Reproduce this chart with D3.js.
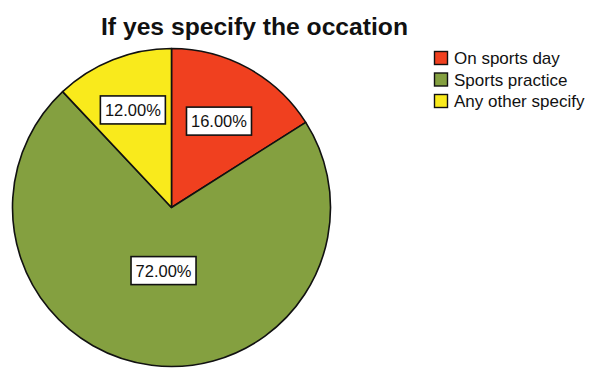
<!DOCTYPE html>
<html>
<head>
<meta charset="utf-8">
<script src="https://cdn.jsdelivr.net/npm/d3@7"></script>
<style>
  html, body { margin: 0; padding: 0; background: #ffffff; }
  svg { display: block; font-family: "Liberation Sans", Arial, sans-serif; }
</style>
</head>
<body>
<svg id="chart" width="593" height="368"></svg>
<script>
// Occasion breakdown (percent of "yes" answers)
const categories = ["On sports day", "Sports practice", "Any other specify"];
const values = [16, 72, 12];
const colors = ["#f0401f", "#84a040", "#f9ea1c"];
const title = "If yes specify the occation";

const svg = d3.select("#chart");
const W = 593, H = 368;
const cx = 171.5, cy = 207.5, r = 159;

// Title
svg.append("text")
  .attr("x", 254.5).attr("y", 35)
  .attr("text-anchor", "middle")
  .attr("font-size", 23)
  .attr("font-weight", "bold")
  .attr("textLength", 307)
  .attr("lengthAdjust", "spacingAndGlyphs")
  .attr("fill", "#111")
  .text(title);

const data = categories.map((c, i) => ({ name: c, value: values[i], color: colors[i] }));

const pie = d3.pie().value(d => d.value).sort(null);
const arcs = pie(data);
const arc = d3.arc().innerRadius(0).outerRadius(r);

const g = svg.append("g").attr("transform", `translate(${cx},${cy})`);

g.selectAll("path.slice")
  .data(arcs)
  .enter().append("path")
  .attr("class", "slice")
  .attr("d", arc)
  .attr("fill", d => d.data.color)
  .attr("stroke", "#111")
  .attr("stroke-width", 1.6)
  .attr("stroke-linejoin", "round");

// Percentage labels in white boxes
const labelRadius = [0.62, 0.40, 0.66];
const fmt = d3.format(".2f");
arcs.forEach((a, i) => {
  const la = d3.arc().innerRadius(r * labelRadius[i]).outerRadius(r * labelRadius[i]);
  const [lx, ly] = la.centroid(a);
  const lg = g.append("g").attr("transform", `translate(${lx},${ly})`);
  const t = lg.append("text")
    .attr("text-anchor", "middle")
    .attr("dy", "0.36em")
    .attr("font-size", 16.5)
    .attr("fill", "#111")
    .text(fmt(a.data.value) + "%");
  const bb = t.node().getBBox();
  lg.insert("rect", "text")
    .attr("x", -32.5).attr("y", -14)
    .attr("width", 65).attr("height", 28)
    .attr("fill", "#ffffff")
    .attr("stroke", "#111")
    .attr("stroke-width", 1.6);
});

// Legend
const legend = svg.append("g").attr("transform", "translate(434,51)");
const rowH = 21.5;
data.forEach((d, i) => {
  const row = legend.append("g").attr("transform", `translate(0,${i * rowH})`);
  row.append("rect")
    .attr("x", 0.5).attr("y", 0.5)
    .attr("width", 13).attr("height", 13)
    .attr("fill", d.color)
    .attr("stroke", "#111")
    .attr("stroke-width", 1.4);
  row.append("text")
    .attr("x", 20).attr("y", 13)
    .attr("font-size", 17)
    .attr("fill", "#111")
    .text(d.name);
});
</script>
</body>
</html>
